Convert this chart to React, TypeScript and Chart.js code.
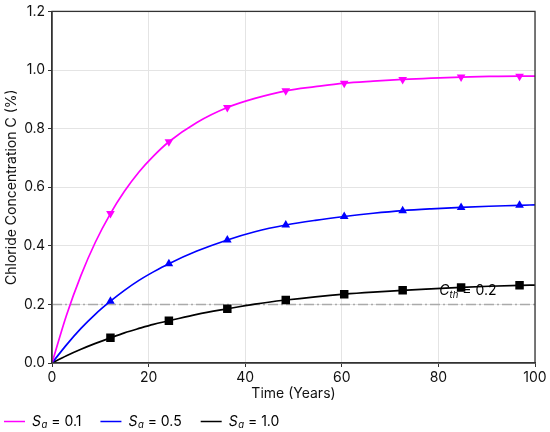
import { useEffect, useRef } from 'react';
import { Chart, registerables } from 'chart.js';

Chart.register(...registerables);

const years = [0, 3, 6, 9, 12.1, 15, 18, 21, 24.2, 30, 36.3, 42, 48.4, 54.5, 60.5, 66.5, 72.6, 78.5, 84.7, 90.5, 96.8, 100];
// years that carry a marker
const markerYears = [12.1, 24.2, 36.3, 48.4, 60.5, 72.6, 84.7, 96.8];

const curveSa01 = [0, 0.163, 0.299, 0.413, 0.51, 0.586, 0.652, 0.706, 0.755, 0.821, 0.872, 0.903, 0.929, 0.943, 0.955, 0.962, 0.968, 0.972, 0.976, 0.978, 0.979, 0.979];
const curveSa05 = [0, 0.062, 0.118, 0.167, 0.211, 0.248, 0.282, 0.311, 0.339, 0.382, 0.42, 0.448, 0.471, 0.487, 0.5, 0.511, 0.52, 0.526, 0.531, 0.535, 0.538, 0.54];
const curveSa10 = [0, 0.025, 0.047, 0.067, 0.086, 0.103, 0.118, 0.132, 0.144, 0.166, 0.185, 0.201, 0.215, 0.226, 0.235, 0.242, 0.248, 0.253, 0.258, 0.262, 0.265, 0.266];

const saLabels = ['0.1', '0.5', '1.0'];
const saColors = ['#ff00ff', '#0000ff', '#000000'];

const thresholdValue = 0.2;
const thresholdLabel = '0.2';

const FONT = 'Inter, "Noto Sans", sans-serif';
const FS = 14;
const AXIS_COLOR = '#333333';

function drawSa(ctx: CanvasRenderingContext2D, x: number, y: number, value: string) {
  ctx.textBaseline = 'middle';
  ctx.textAlign = 'left';
  ctx.font = `italic ${FS}px ${FONT}`;
  ctx.fillText('S', x, y);
  x += ctx.measureText('S').width + 0.5;
  ctx.font = `italic 9.5px ${FONT}`;
  ctx.fillText('a', x, y + 4);
  x += ctx.measureText('a').width;
  ctx.font = `${FS}px ${FONT}`;
  const rest = ` = ${value}`;
  ctx.fillText(rest, x, y);
  return x + ctx.measureText(rest).width;
}

const overlayPlugin = {
  id: 'overlay',
  afterDatasetsDraw(chart: any) {
    const { ctx, scales } = chart;
    // threshold label
    let x = scales.x.getPixelForValue(80.2);
    const y = scales.y.getPixelForValue(0.246);
    ctx.save();
    ctx.fillStyle = '#000';
    ctx.textBaseline = 'middle';
    ctx.font = `italic ${FS}px ${FONT}`;
    ctx.fillText('C', x, y);
    x += ctx.measureText('C').width;
    ctx.font = `italic 9.5px ${FONT}`;
    ctx.fillText('th', x, y + 4);
    x += ctx.measureText('th').width;
    ctx.font = `${FS}px ${FONT}`;
    ctx.fillText(` = ${thresholdLabel}`, x, y);
    ctx.restore();
  },
  afterDraw(chart: any) {
    const { ctx, chartArea } = chart;
    ctx.save();
    ctx.strokeStyle = AXIS_COLOR;
    ctx.lineWidth = 1.3;
    ctx.strokeRect(chartArea.left, chartArea.top, chartArea.right - chartArea.left, chartArea.bottom - chartArea.top);

    // legend
    const ly = 421.5;
    let lx = 4;
    saLabels.forEach((v, i) => {
      ctx.strokeStyle = saColors[i];
      ctx.lineWidth = 1.5;
      ctx.beginPath();
      ctx.moveTo(lx, ly);
      ctx.lineTo(lx + 21, ly);
      ctx.stroke();
      ctx.fillStyle = '#000';
      lx = drawSa(ctx, lx + 28, ly, v) + 19;
    });
    ctx.restore();
  },
};

function pts(values: number[]) {
  return years.map((yr, i) => ({ x: yr, y: values[i] }));
}

export default function App() {
  const canvasRef = useRef<HTMLCanvasElement>(null);

  useEffect(() => {
    document.body.style.margin = '0';
    if (!canvasRef.current) return;

    const markerRadius = (r: number) => (c: any) =>
      markerYears.includes(years[c.dataIndex]) ? r : 0;

    const series = [curveSa01, curveSa05, curveSa10].map((vals, i) => ({
      label: `Sa = ${saLabels[i]}`,
      data: pts(vals),
      borderColor: saColors[i],
      backgroundColor: saColors[i],
      borderWidth: 1.7,
      cubicInterpolationMode: 'monotone' as const,
      pointStyle: i === 2 ? 'rect' : 'triangle',
      rotation: i === 0 ? 180 : 0,
      pointRadius: markerRadius(i === 2 ? 6 : 5),
      pointBorderWidth: 0,
      fill: false,
    }));

    const chart = new Chart(canvasRef.current, {
      type: 'line',
      data: {
        datasets: [
          ...series,
          {
            label: 'threshold',
            data: [
              { x: 0, y: thresholdValue },
              { x: 100, y: thresholdValue },
            ],
            borderColor: '#aaaaaa',
            borderWidth: 1.5,
            borderDash: [10, 3, 2, 3],
            pointRadius: 0,
            fill: false,
          },
        ],
      },
      options: {
        animation: false,
        responsive: false,
        devicePixelRatio: 1,
        layout: { padding: { top: 9, right: 15, bottom: 0, left: 0 } },
        plugins: {
          legend: { display: false },
          tooltip: { enabled: false },
        },
        scales: {
          x: {
            type: 'linear',
            min: 0,
            max: 100,
            ticks: { stepSize: 20, color: '#111', padding: 2, font: { family: FONT, size: FS } },
            grid: { color: '#e4e4e4', tickColor: AXIS_COLOR, tickLength: 4 },
            border: { color: AXIS_COLOR, width: 1.3 },
            title: {
              display: true,
              text: 'Time (Years)',
              color: '#111',
              font: { family: FONT, size: FS },
              padding: { top: 0, bottom: 30 },
            },
            afterFit: (s: any) => {
              s.height = 69;
            },
          },
          y: {
            min: 0,
            max: 1.2,
            ticks: {
              stepSize: 0.2,
              color: '#111',
              padding: 3,
              font: { family: FONT, size: FS },
              callback: (v: any) => Number(v).toFixed(1),
            },
            grid: { color: '#e4e4e4', tickColor: AXIS_COLOR, tickLength: 4 },
            border: { color: AXIS_COLOR, width: 1.3 },
            title: {
              display: true,
              text: 'Chloride Concentration C (%)',
              color: '#111',
              font: { family: FONT, size: FS },
              padding: { top: 3, bottom: 0 },
            },
            afterFit: (s: any) => {
              s.width = 52;
            },
          },
        },
      },
      plugins: [overlayPlugin],
    });

    return () => chart.destroy();
  }, []);

  return (
    <div style={{ width: 550, height: 432 }}>
      <canvas ref={canvasRef} width={550} height={432} />
    </div>
  );
}
